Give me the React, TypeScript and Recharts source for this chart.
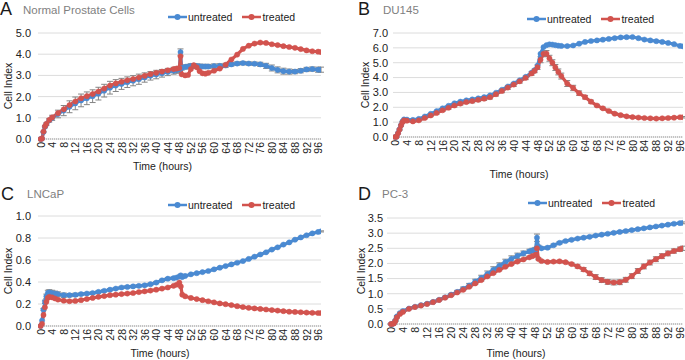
import React from "react";
import {
  LineChart,
  Line,
  XAxis,
  YAxis,
  CartesianGrid,
  ErrorBar,
  Legend,
} from "recharts";

const FONT = '"Liberation Sans", Arial, Helvetica, sans-serif';
const BLUE = "#4a8ad2";
const RED = "#d2534e";
const ERR_GREY = "#858585";
const SERIES_ORDER = ["untreated", "treated"];

const X_TICKS = [0, 4, 8, 12, 16, 20, 24, 28, 32, 36, 40, 44, 48, 52, 56, 60, 64, 68, 72, 76, 80, 84, 88, 92, 96];

// A - Normal Prostate Cells
const HOURS_A = [0, 0.5, 1, 1.5, 2, 3, 4, 6, 8, 10, 12, 14, 16, 18, 20, 22, 24, 26, 28, 30, 32, 34, 36, 38, 40, 42, 44, 46, 47, 48, 48.4, 48.8, 50, 51, 52, 53, 54, 55, 56, 57, 58, 60, 62, 64, 66, 68, 70, 72, 74, 76, 78, 80, 82, 84, 86, 88, 90, 92, 94, 96, 97];
const UNTREATED_A = [0, 0.02, 0.33, 0.58, 0.7, 0.88, 1.0, 1.18, 1.34, 1.52, 1.68, 1.82, 1.92, 2.02, 2.14, 2.28, 2.42, 2.52, 2.6, 2.68, 2.75, 2.82, 2.9, 2.98, 3.04, 3.1, 3.16, 3.22, 3.25, 3.28, 4.1, 3.35, 3.4, 3.42, 3.45, 3.45, 3.44, 3.43, 3.42, 3.42, 3.42, 3.44, 3.45, 3.47, 3.52, 3.56, 3.58, 3.56, 3.55, 3.52, 3.45, 3.35, 3.26, 3.2, 3.18, 3.18, 3.22, 3.28, 3.3, 3.27, 3.27];
const TREATED_A = [0, 0.02, 0.35, 0.6, 0.72, 0.9, 1.02, 1.22, 1.4, 1.6, 1.77, 1.92, 2.02, 2.12, 2.24, 2.38, 2.52, 2.62, 2.7, 2.77, 2.83, 2.9, 2.98, 3.06, 3.12, 3.18, 3.24, 3.3, 3.32, 3.35, 3.9, 3.05, 3.0, 3.02, 3.3, 3.48, 3.38, 3.2, 3.1, 3.08, 3.12, 3.22, 3.32, 3.5, 3.75, 3.98, 4.25, 4.4, 4.5, 4.55, 4.53, 4.47, 4.43, 4.38, 4.34, 4.3, 4.24, 4.18, 4.14, 4.12, 4.1];
const ERR_UNTREATED_A = [0, 0, 0.03, 0.05, 0.06, 0.08, 0.12, 0.18, 0.24, 0.28, 0.3, 0.3, 0.3, 0.3, 0.3, 0.3, 0.3, 0.28, 0.26, 0.25, 0.24, 0.24, 0.22, 0.2, 0.2, 0.18, 0.17, 0.16, 0.15, 0.15, 0.15, 0.1, 0.1, 0.1, 0.1, 0.1, 0.1, 0.1, 0.1, 0.1, 0.1, 0.1, 0.1, 0.1, 0.08, 0.08, 0.08, 0.08, 0.08, 0.1, 0.12, 0.14, 0.14, 0.14, 0.12, 0.1, 0.1, 0.1, 0.1, 0.12, 0.12];

// B - DU145
const HOURS_B = [0, 0.5, 1, 1.5, 2, 2.5, 3, 4, 6, 8, 10, 12, 14, 16, 18, 20, 22, 24, 26, 28, 30, 32, 34, 36, 38, 40, 42, 44, 46, 47, 48, 49, 50, 51, 52, 53, 54, 55, 56, 58, 60, 62, 64, 66, 68, 70, 72, 74, 76, 78, 80, 82, 84, 86, 88, 90, 92, 94, 96, 97];
const UNTREATED_B = [0, 0.02, 0.27, 0.52, 0.8, 1.05, 1.18, 1.17, 1.15, 1.22, 1.38, 1.56, 1.74, 1.93, 2.1, 2.27, 2.38, 2.47, 2.53, 2.6, 2.68, 2.8, 2.98, 3.18, 3.4, 3.6, 3.82, 4.05, 4.33, 4.5, 4.8, 5.6, 6.05, 6.18, 6.24, 6.22, 6.18, 6.15, 6.13, 6.12, 6.16, 6.28, 6.4, 6.46, 6.5, 6.55, 6.6, 6.65, 6.7, 6.72, 6.73, 6.65, 6.56, 6.5, 6.45, 6.4, 6.33, 6.25, 6.13, 6.1];
const TREATED_B = [0, 0.02, 0.25, 0.5, 0.78, 1.0, 1.12, 1.1, 1.05, 1.12, 1.28, 1.45, 1.62, 1.8, 1.97, 2.12, 2.25, 2.35, 2.42, 2.5, 2.58, 2.68, 2.88, 3.1, 3.33, 3.53, 3.75, 3.98, 4.28, 4.45, 4.7, 5.2, 5.6, 5.62, 5.3, 5.0, 4.68, 4.38, 4.1, 3.6, 3.3, 2.95, 2.68, 2.38, 2.12, 1.93, 1.75, 1.57, 1.47, 1.39, 1.34, 1.31, 1.28, 1.26, 1.24, 1.26, 1.28, 1.3, 1.33, 1.33];
const ERR_TREATED_B = [0, 0, 0.03, 0.05, 0.05, 0.05, 0.05, 0.05, 0.05, 0.05, 0.06, 0.08, 0.08, 0.08, 0.1, 0.1, 0.1, 0.1, 0.12, 0.12, 0.12, 0.12, 0.12, 0.12, 0.12, 0.12, 0.12, 0.12, 0.12, 0.12, 0.15, 0.2, 0.2, 0.2, 0.2, 0.2, 0.2, 0.2, 0.2, 0.2, 0.18, 0.15, 0.12, 0.1, 0.08, 0.08, 0.06, 0.06, 0.05, 0.05, 0.05, 0.05, 0.05, 0.05, 0.05, 0.05, 0.05, 0.05, 0.05, 0.05];

// C - LNCaP
const HOURS_C = [0, 0.5, 1, 1.5, 2, 2.5, 3, 4, 5, 6, 8, 10, 12, 14, 16, 18, 20, 22, 24, 26, 28, 30, 32, 34, 36, 38, 40, 42, 44, 46, 47, 48, 48.5, 49, 50, 52, 54, 56, 58, 60, 62, 64, 66, 68, 70, 72, 74, 76, 78, 80, 82, 84, 86, 88, 90, 92, 94, 96, 97];
const UNTREATED_C = [0, 0.05, 0.15, 0.22, 0.27, 0.3, 0.305, 0.3, 0.295, 0.29, 0.28, 0.28, 0.283, 0.29, 0.295, 0.3, 0.31, 0.32, 0.33, 0.34, 0.35, 0.355, 0.36, 0.365, 0.37, 0.38, 0.395, 0.415, 0.43, 0.435, 0.44, 0.45, 0.46, 0.445, 0.455, 0.47, 0.48, 0.49, 0.5, 0.515, 0.53, 0.545, 0.56, 0.575, 0.59, 0.61, 0.63, 0.65, 0.67, 0.695, 0.715, 0.74, 0.76, 0.785, 0.805, 0.825, 0.842, 0.855, 0.86];
const TREATED_C = [0, 0.02, 0.1, 0.17, 0.22, 0.255, 0.265, 0.26, 0.25, 0.24, 0.23, 0.225, 0.228, 0.235, 0.245, 0.255, 0.265, 0.272, 0.28, 0.285, 0.29, 0.295, 0.3, 0.308, 0.315, 0.322, 0.33, 0.34, 0.35, 0.365, 0.375, 0.395, 0.36, 0.285, 0.27, 0.255, 0.245, 0.235, 0.225, 0.215, 0.205, 0.198, 0.19, 0.18, 0.172, 0.165, 0.16, 0.155, 0.15, 0.145, 0.14, 0.135, 0.13, 0.128, 0.125, 0.122, 0.12, 0.118, 0.118];
const ERR_UNTREATED_C = [0, 0, 0.01, 0.015, 0.02, 0.025, 0.025, 0.025, 0.022, 0.02, 0.02, 0.015, 0.015, 0.01, 0.01, 0.01, 0.01, 0.01, 0.01, 0.01, 0.01, 0.01, 0.01, 0.01, 0.01, 0.01, 0.01, 0.01, 0.01, 0.01, 0.01, 0.01, 0.01, 0.01, 0.005, 0.005, 0.005, 0.005, 0.005, 0.005, 0.005, 0.005, 0.005, 0.005, 0.005, 0.005, 0.005, 0.005, 0.005, 0.005, 0.005, 0.005, 0.005, 0.005, 0.005, 0.005, 0.005, 0.005, 0.005];

// D - PC-3
const HOURS_D = [0, 0.5, 1, 1.5, 2, 3, 4, 6, 8, 10, 12, 14, 16, 18, 20, 22, 24, 26, 28, 30, 32, 34, 36, 38, 40, 42, 44, 46, 47, 48, 48.5, 49, 50, 52, 54, 56, 58, 60, 62, 64, 66, 68, 70, 72, 74, 76, 78, 80, 82, 84, 86, 88, 90, 92, 94, 96, 97];
const UNTREATED_D = [0, 0, 0.03, 0.12, 0.25, 0.36, 0.43, 0.51, 0.57, 0.62, 0.67, 0.73, 0.8, 0.88, 0.97, 1.06, 1.16, 1.27, 1.4, 1.52, 1.65, 1.79, 1.92, 2.04, 2.15, 2.25, 2.33, 2.4, 2.43, 2.46, 2.85, 2.55, 2.5, 2.52, 2.6, 2.68, 2.74, 2.78, 2.82, 2.85, 2.88, 2.92, 2.95, 2.98, 3.01, 3.04, 3.07, 3.1, 3.13, 3.16, 3.19, 3.22, 3.25, 3.28, 3.31, 3.33, 3.34];
const TREATED_D = [0, 0, 0.02, 0.1, 0.22, 0.33, 0.4, 0.5, 0.56, 0.61, 0.66, 0.72, 0.79, 0.87, 0.95, 1.04, 1.13, 1.23, 1.34, 1.45, 1.57, 1.68, 1.79, 1.89, 1.98, 2.06, 2.13, 2.2, 2.24, 2.28, 2.5, 2.15, 2.08, 2.05, 2.06, 2.07, 2.04, 1.98, 1.9, 1.8, 1.67, 1.55, 1.45, 1.39, 1.37, 1.38, 1.46, 1.58, 1.75, 1.9, 2.03, 2.14, 2.24, 2.33, 2.41, 2.47, 2.5];
const ERR_UNTREATED_D = [0, 0, 0.01, 0.02, 0.03, 0.03, 0.03, 0.03, 0.03, 0.03, 0.03, 0.03, 0.03, 0.04, 0.04, 0.05, 0.06, 0.07, 0.08, 0.09, 0.1, 0.1, 0.1, 0.1, 0.1, 0.09, 0.08, 0.07, 0.07, 0.07, 0.12, 0.05, 0.04, 0.04, 0.04, 0.04, 0.03, 0.03, 0.03, 0.03, 0.03, 0.03, 0.03, 0.03, 0.03, 0.03, 0.03, 0.03, 0.03, 0.03, 0.03, 0.03, 0.03, 0.03, 0.03, 0.03, 0.03];
const ERR_TREATED_D = [0, 0, 0.01, 0.02, 0.02, 0.02, 0.02, 0.02, 0.02, 0.02, 0.02, 0.02, 0.02, 0.02, 0.02, 0.02, 0.02, 0.02, 0.03, 0.03, 0.03, 0.03, 0.03, 0.03, 0.03, 0.03, 0.03, 0.03, 0.03, 0.03, 0.05, 0.03, 0.03, 0.03, 0.03, 0.03, 0.03, 0.04, 0.05, 0.06, 0.07, 0.08, 0.08, 0.08, 0.08, 0.08, 0.08, 0.08, 0.08, 0.08, 0.08, 0.08, 0.08, 0.08, 0.07, 0.07, 0.07];

const YTICKS_A = [0, 1, 2, 3, 4, 5];
const YTICKS_B = [0, 1, 2, 3, 4, 5, 6, 7];
const YTICKS_C = [0, 0.2, 0.4, 0.6, 0.8, 1.0];
const YTICKS_D = [0, 0.5, 1, 1.5, 2, 2.5, 3, 3.5];

function XTick(props: any) {
  const { x, y, payload } = props;
  return (
    <text
      x={x}
      y={y}
      transform={`rotate(-90 ${x} ${y})`}
      textAnchor="end"
      dominantBaseline="central"
      fontSize={10.5}
      fill="#222"
      fontFamily={FONT}
    >
      {payload.value}
    </text>
  );
}

function LegendBox(props: any) {
  const items = (props.payload || [])
    .filter((p: any) => p.type !== "none" && SERIES_ORDER.includes(p.value))
    .sort((a: any, b: any) => SERIES_ORDER.indexOf(a.value) - SERIES_ORDER.indexOf(b.value));
  return (
    <div style={{ display: "flex", alignItems: "center", fontFamily: FONT, fontSize: 10.5, color: "#222", whiteSpace: "nowrap", lineHeight: "14px" }}>
      {items.map((p: any) => (
        <div key={p.value} style={{ display: "flex", alignItems: "center", marginRight: 10 }}>
          <svg width={19} height={8}>
            <line x1={0} y1={4} x2={19} y2={4} stroke={p.color} strokeWidth={2.5} />
            <circle cx={9.5} cy={4} r={3} fill={p.color} />
          </svg>
          <span style={{ marginLeft: 1 }}>{p.value}</span>
        </div>
      ))}
    </div>
  );
}

interface PanelProps {
  left: number;
  top: number;
  width: number;
  height: number;
  letter: string;
  title: string;
  hours: number[];
  untreated: number[];
  treated: number[];
  errU?: number[];
  errT?: number[];
  yMax: number;
  yTicks: number[];
  xDomain: [number, number];
  margin: { top: number; right: number; bottom: number; left: number };
  yAxisWidth: number;
  yTickGap: number;
  yLabelDx: number;
  xAxisHeight: number;
  xLabelDx: number;
  xLabelOffset: number;
  legendPos: { x: number; y: number };
  letterPos: { x: number; y: number };
  titlePos: { x: number; y: number };
}

function Panel(p: PanelProps) {
  const data = p.hours.map((t, i) => ({
    t,
    untreated: p.untreated[i],
    treated: p.treated[i],
    eu: p.errU ? p.errU[i] : 0,
    et: p.errT ? p.errT[i] : 0,
  }));

  return (
    <div style={{ position: "absolute", left: p.left, top: p.top, width: p.width, height: p.height }}>
      <LineChart width={p.width} height={p.height} data={data} margin={p.margin}>
        <CartesianGrid vertical={false} stroke="#dcdcdc" />
        <XAxis
          dataKey="t"
          type="number"
          domain={p.xDomain}
          allowDataOverflow
          ticks={X_TICKS}
          interval={0}
          height={p.xAxisHeight}
          tickLine={false}
          tickSize={0}
          tickMargin={3}
          tick={<XTick />}
          axisLine={{ stroke: "#c4c4c4", strokeWidth: 2, strokeDasharray: "1 1" }}
          label={{
            value: "Time (hours)",
            position: "insideBottom",
            offset: p.xLabelOffset,
            dx: p.xLabelDx,
            style: { fontSize: 10.5, fill: "#222", fontFamily: FONT },
          }}
        />
        <YAxis
          type="number"
          domain={[0, p.yMax]}
          ticks={p.yTicks}
          interval={0}
          width={p.yAxisWidth}
          tickLine={false}
          axisLine={false}
          tickSize={0}
          tickMargin={p.yTickGap}
          tickFormatter={(v: number) => v.toFixed(1)}
          tick={{ fontSize: 11, fill: "#222", fontFamily: FONT }}
          label={{
            value: "Cell Index",
            angle: -90,
            position: "center",
            dx: p.yLabelDx,
            style: { fontSize: 10.5, fill: "#222", fontFamily: FONT, textAnchor: "middle" },
          }}
        />
        <Legend
          content={<LegendBox />}
          layout="horizontal"
          verticalAlign="middle"
          align="center"
          wrapperStyle={{ left: p.legendPos.x, top: p.legendPos.y, width: "auto" }}
        />
        {/* error bars sit underneath both series */}
        <Line dataKey="untreated" stroke="none" dot={false} activeDot={false} legendType="none" isAnimationActive={false}>
          <ErrorBar dataKey="eu" width={3} strokeWidth={1} stroke={ERR_GREY} direction="y" isAnimationActive={false} />
        </Line>
        <Line dataKey="treated" stroke="none" dot={false} activeDot={false} legendType="none" isAnimationActive={false}>
          <ErrorBar dataKey="et" width={3} strokeWidth={1} stroke={ERR_GREY} direction="y" isAnimationActive={false} />
        </Line>
        <Line
          name="untreated"
          dataKey="untreated"
          stroke={BLUE}
          strokeWidth={3.2}
          dot={{ r: 2.6, fill: BLUE, stroke: BLUE, strokeWidth: 0.5 }}
          activeDot={false}
          isAnimationActive={false}
        />
        <Line
          name="treated"
          dataKey="treated"
          stroke={RED}
          strokeWidth={3.2}
          dot={{ r: 2.6, fill: RED, stroke: RED, strokeWidth: 0.5 }}
          activeDot={false}
          isAnimationActive={false}
        />
      </LineChart>
      <div style={{ position: "absolute", left: p.letterPos.x, top: p.letterPos.y, fontFamily: FONT, fontSize: 18, lineHeight: 1, color: "#1a1a1a" }}>
        {p.letter}
      </div>
      <div style={{ position: "absolute", left: p.titlePos.x, top: p.titlePos.y, fontFamily: FONT, fontSize: 11.5, lineHeight: 1, color: "#7f7f7f", whiteSpace: "nowrap" }}>
        {p.title}
      </div>
    </div>
  );
}

export default function App() {
  return (
    <div style={{ position: "absolute", left: 0, top: 0, width: 685, height: 360, background: "#fff", overflow: "hidden" }}>
      <Panel
        left={0} top={0} width={340} height={180}
        letter="A" title="Normal Prostate Cells"
        hours={HOURS_A} untreated={UNTREATED_A} treated={TREATED_A} errU={ERR_UNTREATED_A}
        yMax={5} yTicks={YTICKS_A} xDomain={[-0.9, 97]}
        margin={{ top: 33, right: 19, bottom: 0, left: 0 }}
        yAxisWidth={38} yTickGap={7} yLabelDx={-11}
        xAxisHeight={41} xLabelDx={-17} xLabelOffset={10}
        legendPos={{ x: 168, y: 10 }} letterPos={{ x: 0, y: 0.3 }} titlePos={{ x: 23, y: 5.3 }}
      />
      <Panel
        left={340} top={0} width={345} height={180}
        letter="B" title="DU145"
        hours={HOURS_B} untreated={UNTREATED_B} treated={TREATED_B} errT={ERR_TREATED_B}
        yMax={7} yTicks={YTICKS_B} xDomain={[-0.7, 97]}
        margin={{ top: 33, right: 2, bottom: 0, left: 0 }}
        yAxisWidth={53} yTickGap={5} yLabelDx={-1.5}
        xAxisHeight={43} xLabelDx={-19} xLabelOffset={2}
        legendPos={{ x: 187, y: 12 }} letterPos={{ x: 18, y: -0.2 }} titlePos={{ x: 43, y: 5.3 }}
      />
      <Panel
        left={0} top={180} width={340} height={180}
        letter="C" title="LNCaP"
        hours={HOURS_C} untreated={UNTREATED_C} treated={TREATED_C} errU={ERR_UNTREATED_C}
        yMax={1} yTicks={YTICKS_C} xDomain={[-0.9, 97]}
        margin={{ top: 36, right: 19, bottom: 0, left: 0 }}
        yAxisWidth={38} yTickGap={7} yLabelDx={-11}
        xAxisHeight={34} xLabelDx={-19.5} xLabelOffset={3}
        legendPos={{ x: 168, y: 18 }} letterPos={{ x: 1, y: 4.8 }} titlePos={{ x: 27, y: 8.6 }}
      />
      <Panel
        left={340} top={180} width={345} height={180}
        letter="D" title="PC-3"
        hours={HOURS_D} untreated={UNTREATED_D} treated={TREATED_D} errU={ERR_UNTREATED_D} errT={ERR_TREATED_D}
        yMax={3.5} yTicks={YTICKS_D} xDomain={[-1.3, 97]}
        margin={{ top: 38, right: 2, bottom: 0, left: 0 }}
        yAxisWidth={47} yTickGap={4} yLabelDx={-1.8}
        xAxisHeight={36} xLabelDx={-19} xLabelOffset={3}
        legendPos={{ x: 188, y: 16 }} letterPos={{ x: 18, y: 4.8 }} titlePos={{ x: 42, y: 9.3 }}
      />
    </div>
  );
}
